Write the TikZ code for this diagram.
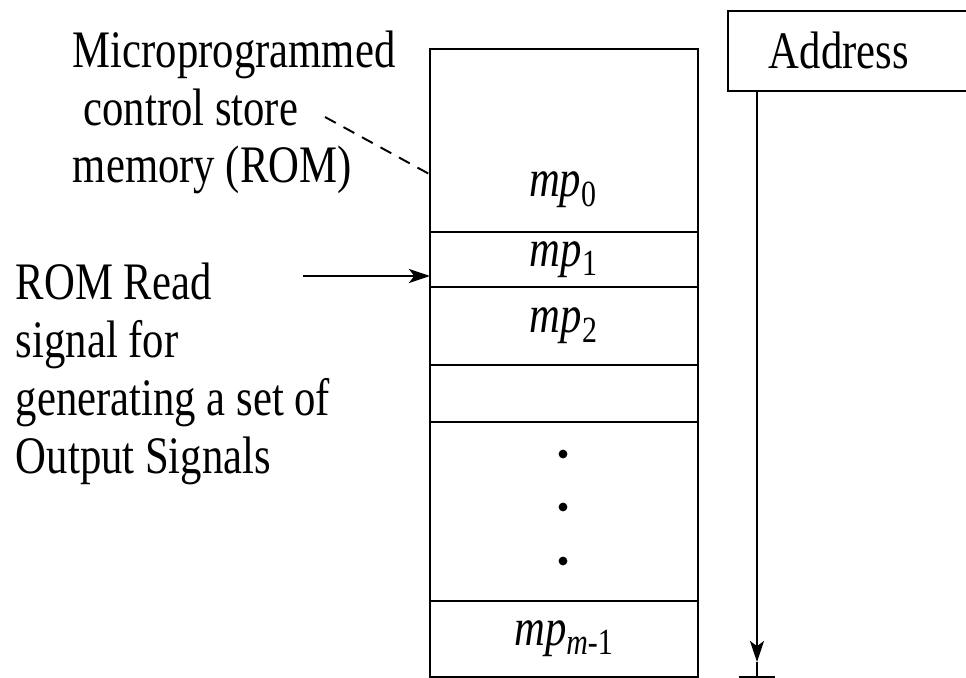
\documentclass[tikz,border=0pt]{standalone}
\usepackage{fontspec}
\setmainfont{Liberation Serif}[FakeStretch=0.81]
\usetikzlibrary{positioning, arrows.meta}

\begin{document}
\begin{tikzpicture}[x=0.02cm, y=-0.02cm, node distance=0pt, line width=1.1pt,
    font=\fontsize{30}{33}\selectfont,
    cell/.style={draw, minimum width=5.36cm, inner sep=0pt, outer sep=0pt},
    note/.style={align=left, inner sep=0pt, anchor=base west},
    vdot/.style={circle, fill, inner sep=0pt, minimum size=5pt}]
      \useasboundingbox (0,0) rectangle (966,678);
      % control store cells
      \node (mem0) [cell, minimum height=3.66cm, anchor=north west] at (430,49) {};
      \node (mem1) [cell, minimum height=1.1cm, below=of mem0] {\textit{mp}\textsubscript{1}};
      \node (mem2) [cell, minimum height=1.56cm, below=of mem1] {\textit{mp}\textsubscript{2}};
      \node (mem3) [cell, minimum height=1.14cm, below=of mem2] {};
      \node (mem4) [cell, minimum height=3.58cm, below=of mem3] {};
      \node (mem5) [cell, minimum height=1.52cm, below=of mem4] {\textit{mp}\textsubscript{\textit{m}-1}};
      \node (lab0) at (563,190) {\textit{mp}\textsubscript{0}};
      \node (d1) [vdot] at (563,454) {};
      \node (d2) [vdot] at (563,507) {};
      \node (d3) [vdot] at (563,561) {};
      % texts on the left
      \node (cstore) [note] at (72,183) {Microprogrammed\\\hspace*{6pt}control store\\memory (ROM)};
      \node (rdsig) [note] at (15,473) {ROM Read\\signal for\\generating a set of\\Output Signals};
      \coordinate (dstart) at (325,117);
      \coordinate (dend) at (431,175);
      \draw[dashed, dash pattern=on 7pt off 5pt] (dstart) -- (dend);
      \coordinate (rstart) at (303,276);
      \draw[-{Stealth[length=12pt, width=8pt, inset=3pt]}] (rstart) -- (rstart -| mem0.west);
      % address
      \node (addr) [draw, anchor=north west, minimum height=1.6cm, text width=4.2cm,
        inner xsep=0.82cm, align=left] at (727,10) {Address};
      \coordinate (atop) at (757,90);
      \coordinate (atip) at (757,662);
      \coordinate (aend) at (757,677);
      \coordinate (tickl) at (739,677);
      \coordinate (tickr) at (775,677);
      \draw[-{Stealth[length=12pt, width=8pt, inset=3pt]}] (atop) -- (atip);
      \draw (atip) -- (aend);
      \draw (tickl) -- (tickr);
\end{tikzpicture}
\end{document}
